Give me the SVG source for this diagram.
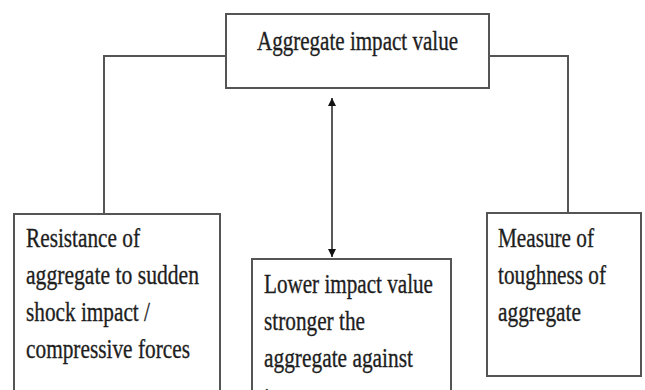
<svg xmlns="http://www.w3.org/2000/svg" width="645" height="390" viewBox="0 0 645 390">
<defs>
<marker id="ah" viewBox="0 0 10 10" refX="10" refY="5" markerWidth="8" markerHeight="11" markerUnits="userSpaceOnUse" orient="auto-start-reverse">
<path d="M0,0 L10,5 L0,10 Z" fill="#111"/>
</marker>
</defs>
<style>
.box{fill:#fff;stroke:#555;stroke-width:2}
.con{fill:none;stroke:#555;stroke-width:2}
.t{font-family:"Liberation Serif","Times New Roman",serif;font-size:28px;fill:#1e1e1e;stroke:#1e1e1e;stroke-width:0.35}
</style>
<rect width="645" height="390" fill="#fff"/>
<g id="connectors">
<polyline class="con" points="226,56 104,56 104,214"/>
<polyline class="con" points="489,56 568,56 568,213"/>
<line x1="332" y1="98" x2="332" y2="257" stroke="#222" stroke-width="1.5" marker-start="url(#ah)" marker-end="url(#ah)"/>
</g>
<g id="top">
<rect class="box" x="226" y="14" width="263" height="74"/>
<text class="t" x="357.5" y="50" text-anchor="middle" textLength="201" lengthAdjust="spacingAndGlyphs">Aggregate impact value</text>
</g>
<g id="left">
<rect class="box" x="14" y="214" width="206" height="200"/>
<text class="t" x="26" y="247" textLength="114" lengthAdjust="spacingAndGlyphs">Resistance of</text>
<text class="t" x="26" y="284" textLength="173" lengthAdjust="spacingAndGlyphs">aggregate to sudden</text>
<text class="t" x="26" y="321" textLength="124" lengthAdjust="spacingAndGlyphs">shock impact /</text>
<text class="t" x="26" y="358" textLength="164" lengthAdjust="spacingAndGlyphs">compressive forces</text>
</g>
<g id="middle">
<rect class="box" x="252" y="259" width="199" height="160"/>
<text class="t" x="264" y="293" textLength="169" lengthAdjust="spacingAndGlyphs">Lower impact value</text>
<text class="t" x="264" y="330" textLength="101" lengthAdjust="spacingAndGlyphs">stronger the</text>
<text class="t" x="264" y="367" textLength="149" lengthAdjust="spacingAndGlyphs">aggregate against</text>
<text class="t" x="264" y="407" textLength="58" lengthAdjust="spacingAndGlyphs">impact</text>
</g>
<g id="right">
<rect class="box" x="487" y="213" width="154" height="163"/>
<text class="t" x="498" y="247" textLength="96" lengthAdjust="spacingAndGlyphs">Measure of</text>
<text class="t" x="498" y="284" textLength="108" lengthAdjust="spacingAndGlyphs">toughness of</text>
<text class="t" x="498" y="321" textLength="83" lengthAdjust="spacingAndGlyphs">aggregate</text>
</g>
</svg>
